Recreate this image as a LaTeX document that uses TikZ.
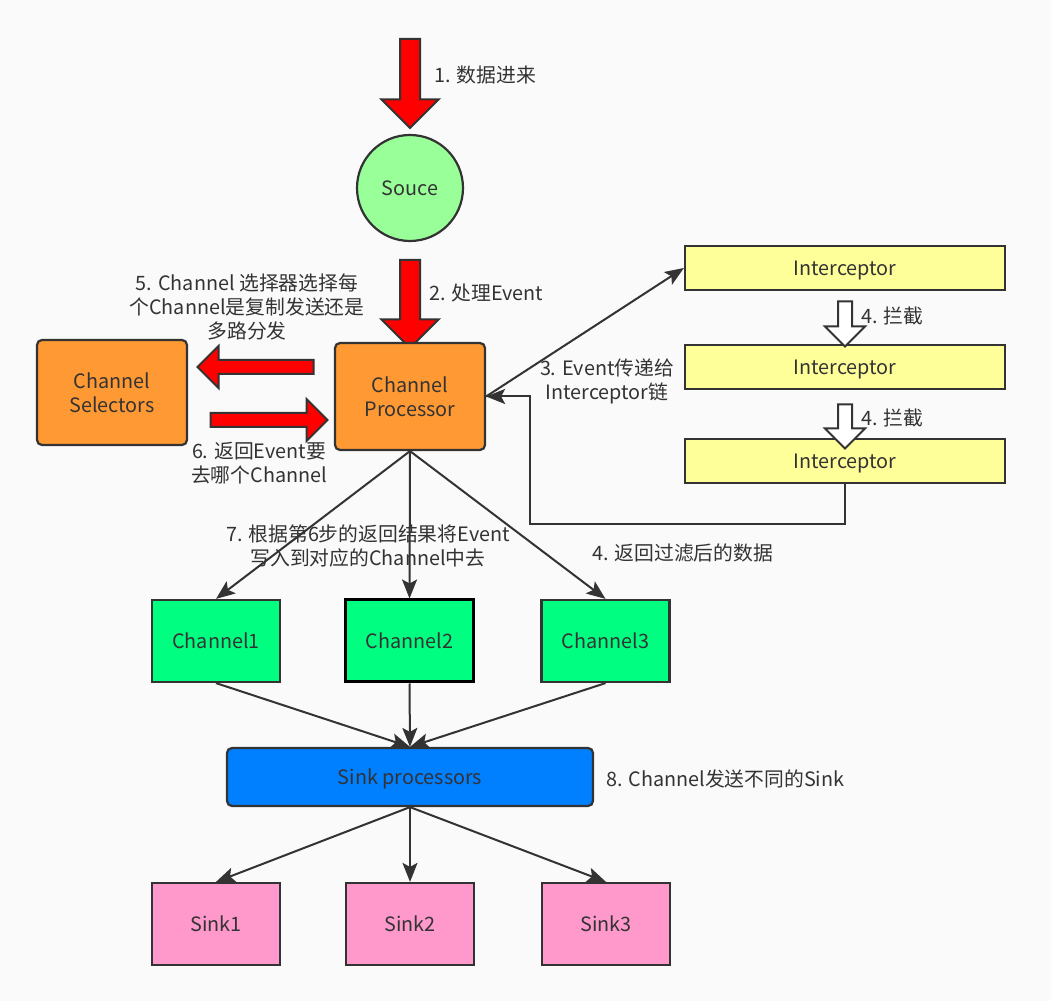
\documentclass[tikz,border=0pt]{standalone}
\usepackage{fontspec}
\setmainfont{Noto Sans CJK SC}
\usepackage{xcolor}
\usepackage{tikz}
\usetikzlibrary{positioning,shapes.geometric,shapes.arrows,arrows.meta}

\definecolor{bgcol}{RGB}{250,250,250}
\definecolor{linecol}{RGB}{51,51,51}
\definecolor{orangefill}{RGB}{255,153,51}
\definecolor{yellowfill}{RGB}{255,255,153}
\definecolor{greenfill}{RGB}{0,255,128}
\definecolor{bluefill}{RGB}{0,127,255}
\definecolor{pinkfill}{RGB}{255,153,204}
\definecolor{roundfill}{RGB}{153,255,153}

\begin{document}
\begin{tikzpicture}[
		x=1pt, y=1pt,
		font=\fontsize{19.8}{24}\selectfont,
		every node/.style = {text=linecol},
		box/.style = {draw=linecol, line width=2.2pt, minimum width=128pt, minimum height=82pt, align=center},
		oneline/.style = {text height=15pt, text depth=0pt},
		roundbox/.style = {box, rounded corners=5pt, fill=orangefill},
		interbox/.style = {box, oneline, minimum width=320pt, minimum height=44pt, fill=yellowfill},
		chanbox/.style = {box, oneline, fill=greenfill},
		sinkbox/.style = {box, oneline, fill=pinkfill},
		label/.style = {align=center, inner sep=0pt},
		fatarrow/.style = {single arrow, draw=linecol, line width=2pt, fill=red, inner sep=9pt, minimum width=55pt, single arrow head extend=18.5pt},
		sidearrow/.style = {fatarrow, inner sep=6pt, minimum width=40pt, single arrow head extend=14pt},
		hollowarrow/.style = {fatarrow, fill=white, inner sep=6pt, minimum width=38pt, single arrow head extend=13pt, shape border rotate=270},
		conn/.style = {draw=linecol, line width=2pt, -{Stealth[length=19pt, width=15pt, inset=4pt]}}
	]

	% Fondo
	\fill[bgcol] (0,0) rectangle (1051,1001);
	\useasboundingbox (0,0) rectangle (1051,1001);

	% Nodes
	\node [fatarrow, minimum height=89pt, shape border rotate=270] (in1) at (410,922.5) {};
	\node [label, anchor=west] (lab1) at (434,926) {1. 数据进来};
	\node [circle, oneline, draw=linecol, line width=2.2pt, fill=roundfill, minimum size=106pt] (souce) at (410,813) {Souce};
	\node [fatarrow, minimum height=88pt, shape border rotate=270] (in2) at (410,702) {};
	\node [label, anchor=west] (lab2) at (429,708) {2. 处理Event};

	\node [roundbox, minimum width=150pt, minimum height=107pt] (cp) at (410,604.5) {Channel\\Processor};
	\node [roundbox, minimum width=150pt, minimum height=105pt] (cs) at (112,608.5) {Channel\\Selectors};
	\node [sidearrow, minimum height=116pt, shape border rotate=180] (toSel) at (259,634) {};
	\node [sidearrow, minimum height=117pt] (toProc) at (265.5,581) {};
	\node [label] (lab5) at (247,694) {5. Channel 选择器选择每\\个Channel是复制发送还是\\多路分发};
	\node [label] (lab6) at (259,538) {6. 返回Event要\\去哪个Channel};

	\node [interbox] (int1) at (845,733) {Interceptor};
	\node [interbox] (int2) at (845,634) {Interceptor};
	\node [interbox] (int3) at (845,540) {Interceptor};
	\node [hollowarrow, minimum height=45pt] (stop1) at (845,680.5) {};
	\node [hollowarrow, minimum height=44pt] (stop2) at (845,578) {};
	\node [label, anchor=west] (lab4a) at (861,685) {4. 拦截};
	\node [label, anchor=west] (lab4b) at (861,583) {4. 拦截};
	\node [label] (lab3) at (607,620) {3. Event传递给\\Interceptor链};

	\node [chanbox] (ch1) at (216,360) {Channel1};
	\node [chanbox, draw=black, line width=3pt] (ch2) at (409.5,360) {Channel2};
	\node [chanbox] (ch3) at (605.5,360) {Channel3};
	\node [label] (lab7) at (368,455) {7. 根据第6步的返回结果将Event\\写入到对应的Channel中去};
	\node [label, anchor=west] (lab4c) at (592,448) {4. 返回过滤后的数据};

	\node [roundbox, oneline, fill=bluefill, minimum width=366pt, minimum height=58pt] (sinkp) at (410,224) {Sink processors};
	\node [label, anchor=west] (lab8) at (606,222) {8. Channel发送不同的Sink};

	\node [sinkbox] (sink1) at (216,77) {Sink1};
	\node [sinkbox] (sink2) at (410,77) {Sink2};
	\node [sinkbox] (sink3) at (606,77) {Sink3};

	% Lines
	\coordinate (turn) at (530,477);
	\draw [conn] (cp.east) -- (int1.west);
	\draw [conn] (int3.south) |- (turn) |- (cp.east);
	\draw [conn] (cp.south) -- (ch1.north);
	\draw [conn] (cp.south) -- (ch2.north);
	\draw [conn] (cp.south) -- (ch3.north);
	\draw [conn] (ch1.south) -- (sinkp.north);
	\draw [conn] (ch2.south) -- (sinkp.north);
	\draw [conn] (ch3.south) -- (sinkp.north);
	\draw [conn] (sinkp.south) -- (sink1.north);
	\draw [conn] (sinkp.south) -- (sink2.north);
	\draw [conn] (sinkp.south) -- (sink3.north);
\end{tikzpicture}
\end{document}
